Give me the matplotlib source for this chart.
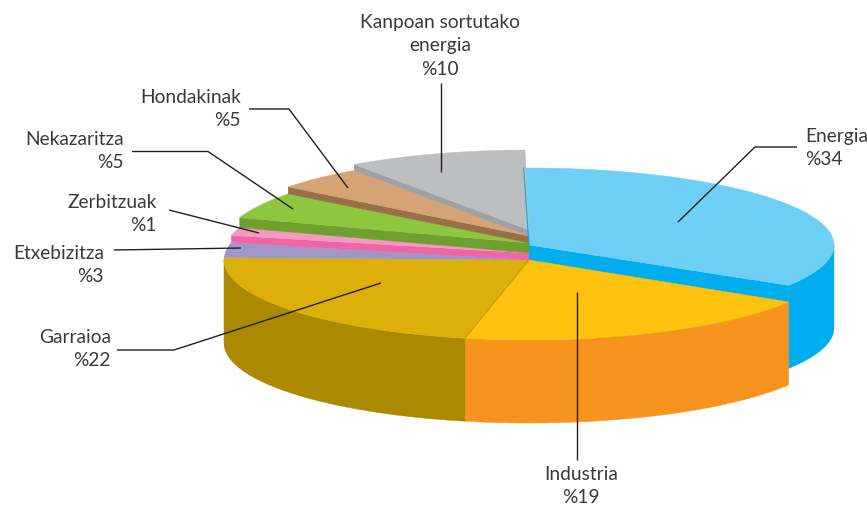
import numpy as np
import matplotlib

matplotlib.use("Agg")

import matplotlib.pyplot as plt
from matplotlib.patches import Polygon


WIDTH = 867
HEIGHT = 505

# pie data, clockwise from the top
NAMES = [
    "Energia",
    "Industria",
    "Garraioa",
    "Etxebizitza",
    "Zerbitzuak",
    "Nekazaritza",
    "Hondakinak",
    "Kanpoan sortutako\nenergia",
]
VALUES = [34, 19, 22, 3, 1, 5, 5, 10]

TOP_COLORS = ["#6dcff6", "#ffc20e", "#dcb008", "#a096c8", "#f49ac1", "#8dc63f", "#d6a375", "#bcbec0"]
SIDE_COLORS = ["#00aeef", "#f7941d", "#ab8900", "#8a80b0", "#ee66a6", "#6e9f30", "#987048", "#a0a1a3"]

# how far each slice is pulled up from the base, in pixels
LIFTS = [15, 0, 0, 0, 7, 17, 24, 30]

# the original slices are hand placed, degrees added to each slice's end
END_NUDGE = [-1.0, 0.4, 0, 0, 2.2, 3.4, 2.4, 0.25]

CX, CY = 529, 260
RX, RY = 305, 80
ENERGIA_RY = 77
DEPTH = 83
START = -1.0

# label anchor x, first line centre y, alignment
LABEL_POS = [
    (805, 135, "left"),
    (581, 473, "center"),
    (111, 336, "right"),
    (104, 252, "right"),
    (157, 201, "right"),
    (124, 138, "right"),
    (241, 96, "right"),
    (440, 21, "center"),
]

LEADERS = [
    [(797, 147), (755, 147), (678, 222)],
    [(577, 292), (577, 460)],
    [(117, 350), (174, 350), (381, 283)],
    [(114, 250), (241, 248)],
    [(169, 210), (259, 233)],
    [(132, 151.5), (208, 151.5), (293, 209)],
    [(249, 109), (289, 109), (348, 188)],
    [(440.5, 83), (440.5, 172)],
]


def rim(t, lift, ry=RY):
    t = np.radians(t)
    return CX + RX * np.sin(t), CY - lift - ry * np.cos(t)


def draw_top(ax, t0, t1, lift, color, ry=RY):
    t = np.linspace(t0, t1, 120)
    x, y = rim(t, lift, ry)
    pts = [(CX, CY - lift)] + list(zip(x, y))
    ax.add_patch(Polygon(pts, closed=True, fc=color, ec=color, lw=0.3))


def draw_wall(ax, t0, t1, lift, color, ry=RY):
    # only the front half of the rim can be seen
    t0, t1 = max(t0, 90), min(t1, 270)
    if t0 >= t1:
        return
    t = np.linspace(t0, t1, 120)
    x, y = rim(t, lift, ry)
    pts = list(zip(x, y)) + list(zip(x[::-1], y[::-1] + DEPTH))
    ax.add_patch(Polygon(pts, closed=True, fc=color, ec=color, lw=0.3))


def draw_band(ax, t, lift_top, lift_bottom, color, ry=RY):
    # radial face of a raised slice
    x0, y0 = rim(t, lift_top, ry)
    x1, y1 = rim(t, lift_bottom, ry)
    pts = [(CX, CY - lift_top), (x0, y0), (x1, y1), (CX, CY - lift_bottom)]
    ax.add_patch(Polygon(pts, closed=True, fc=color, ec=color, lw=0.3))


def main():
    fig = plt.figure(figsize=(WIDTH / 100, HEIGHT / 100), dpi=100)
    ax = fig.add_axes([0, 0, 1, 1])
    ax.set_xlim(0, WIDTH)
    ax.set_ylim(HEIGHT, 0)
    ax.axis("off")

    sweep = 360 * np.array(VALUES) / sum(VALUES)
    ends = START + np.cumsum(sweep) + np.array(END_NUDGE)
    starts = np.r_[START, ends[:-1]]

    # Energia is raised, its cut face shows above Industria
    draw_wall(ax, starts[0], ends[0], LIFTS[0], SIDE_COLORS[0], ENERGIA_RY)
    draw_band(ax, ends[0], LIFTS[0], LIFTS[0] - DEPTH, SIDE_COLORS[0], ENERGIA_RY)
    draw_top(ax, starts[0], ends[0], LIFTS[0], TOP_COLORS[0], ENERGIA_RY)
    x, y = rim(starts[0], LIFTS[0], ENERGIA_RY)
    ax.plot([CX, x], [CY - LIFTS[0], y], color=SIDE_COLORS[0], lw=0.8)

    for i in range(1, len(VALUES)):
        draw_wall(ax, starts[i], ends[i], LIFTS[i], SIDE_COLORS[i])
        if LIFTS[i] > LIFTS[i - 1]:
            draw_band(ax, starts[i], LIFTS[i], LIFTS[i - 1], SIDE_COLORS[i])
        draw_top(ax, starts[i], ends[i], LIFTS[i], TOP_COLORS[i])

    # thin seam between Industria and Garraioa
    x, y = rim(starts[2], LIFTS[2])
    ax.plot([CX, x], [CY, y], color="#b8960a", lw=0.6)

    for pts in LEADERS:
        xs, ys = zip(*pts)
        ax.plot(xs, ys, color="#231f20", lw=1.0, solid_capstyle="butt", solid_joinstyle="miter")

    for name, value, (x, y, ha) in zip(NAMES, VALUES, LABEL_POS):
        ax.text(
            x,
            y - 7,
            f"{name}\n%{value}",
            ha=ha,
            va="top",
            ma=ha,
            fontsize=13.8,
            family="Lato",
            color="#3a3a3a",
            linespacing=1.45,
        )

    fig.savefig("out.png", dpi=100)


if __name__ == "__main__":
    main()
